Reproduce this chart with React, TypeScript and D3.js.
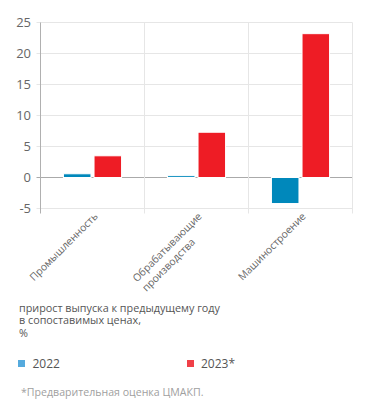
import React, { useLayoutEffect, useRef, useState } from "react";
import * as d3 from "d3";

const categories: string[][] = [["Промышленность"], ["Обрабатывающие", "производства"], ["Машиностроение"]];
const series2022: number[] = [0.6, 0.3, -4.2];
const series2023: number[] = [3.5, 7.3, 23.2];
const yTicks: number[] = [-5, 0, 5, 10, 15, 20, 25];
const seriesNames: string[] = ["2022", "2023*"];
const titleLines: string[] = ["прирост выпуска к предыдущему году", "в сопоставимых ценах,", "%"];
const footnote = "*Предварительная оценка ЦМАКП.";

const W = 371;
const H = 414;
const left = 40.5;
const right = 352.5;
const top = 22.5;
const bottom = 208.5;
const colors = ["#0088bb", "#ee1c25"];
const font = "'Open Sans', sans-serif";

export default function App() {
  const x = d3.scaleBand<number>().domain(categories.map((_, i) => i)).range([left, right]).paddingInner(0).paddingOuter(0);
  const inner = d3.scaleBand<number>().domain([0, 1]).range([0, x.bandwidth()]).paddingInner(0.1).paddingOuter(0.75);
  const y = d3.scaleLinear().domain([-5, 25]).range([bottom, top]);
  const all = [series2022, series2023];
  const refs = useRef<(SVGTextElement | null)[]>([]);
  const [widths, setWidths] = useState<number[]>(categories.map(() => 0));
  useLayoutEffect(() => {
    setWidths(refs.current.map((el) => (el ? el.getBBox().width : 0)));
  }, []);
  return (
    <svg width={W} height={H} style={{ position: "absolute", left: 0, top: 0, background: "#fff" }}>
      {yTicks.map((t) => (
        <g key={t}>
          <line x1={left - 4} x2={right} y1={y(t)} y2={y(t)} stroke={t === 0 ? "#aaaaaa" : "#e6e6e6"} strokeWidth={1} />
          <text x={31} y={y(t)} dy="0.35em" textAnchor="end" fontSize={13} fill="#666" fontFamily={font}>{t}</text>
        </g>
      ))}
      {categories.map((_, i) => (
        <line key={i} x1={x(i)! + x.bandwidth()} x2={x(i)! + x.bandwidth()} y1={top} y2={bottom + 5} stroke="#e6e6e6" />
      ))}
      <line x1={left} x2={left} y1={top} y2={bottom + 5} stroke="#b0b0b0" />
      {all.map((s, si) =>
        s.map((v, i) => (
          <rect key={`${si}-${i}`} x={x(i)! + inner(si)!} width={inner.bandwidth()} y={Math.min(y(v), y(0))} height={Math.abs(y(v) - y(0))} fill={colors[si]} stroke="#fff" strokeWidth={1} />
        ))
      )}
      {categories.map((lines, i) => {
        const cx = x(i)! + x.bandwidth() / 2 + 6;
        const cy = 217;
        return (
          <text
            key={i}
            ref={(el) => { refs.current[i] = el; }}
            transform={`translate(${cx},${cy}) rotate(-45) translate(${-widths[i]},0)`}
            textAnchor="start"
            fontSize={10.3}
            fill="#666"
            fontFamily={font}
          >
            {lines.map((l, j) => (
              <tspan key={j} x={0} dy={j === 0 ? 0 : 13.5}>{l}</tspan>
            ))}
          </text>
        );
      })}
      {titleLines.map((l, j) => (
        <text key={j} x={19} y={311.5 + j * 12.6} fontSize={10.8} fill="#555" fontFamily={font}>{l}</text>
      ))}
      {seriesNames.map((n, i) => (
        <g key={n}>
          <rect x={i === 0 ? 18 : 187} y={360} width={7} height={7} fill={i === 0 ? "#55aadd" : "#f04048"} />
          <text x={i === 0 ? 32.5 : 201} y={367.5} fontSize={12} fill="#555" fontFamily={font}>{n}</text>
        </g>
      ))}
      <text x={21} y={396} fontSize={10.6} fill="#a0a0a0" fontFamily={font}>{footnote}</text>
    </svg>
  );
}
